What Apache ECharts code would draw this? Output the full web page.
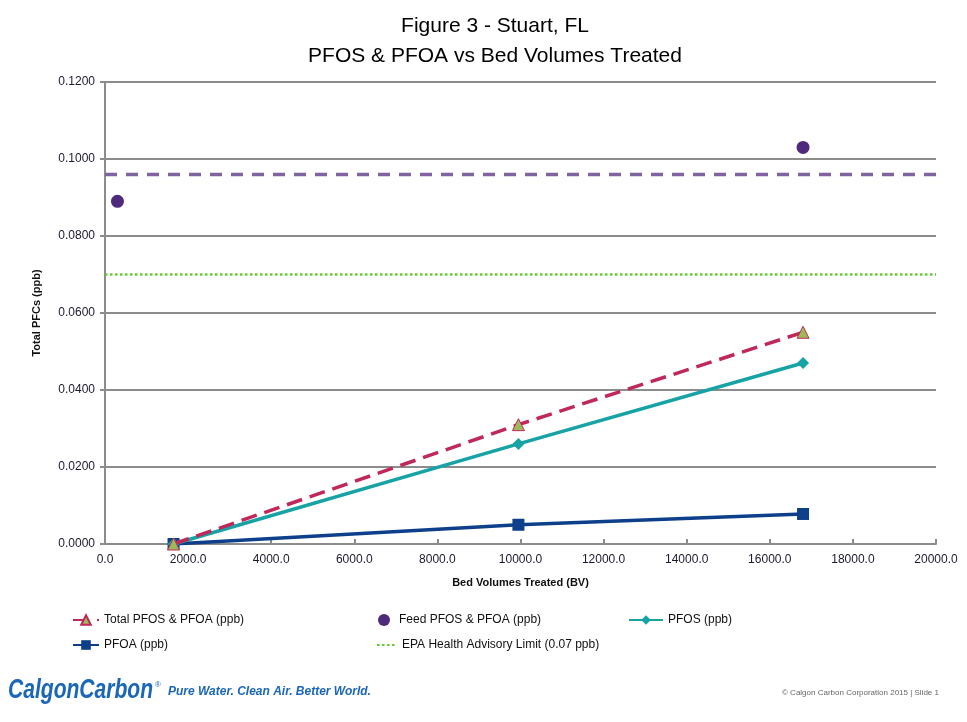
<!DOCTYPE html>
<html>
<head>
<meta charset="utf-8">
<script src="https://cdn.jsdelivr.net/npm/echarts@6/dist/echarts.min.js"></script>
<style>
html,body{margin:0;padding:0;background:#fff;}
#c{width:967px;height:722px;}
</style>
</head>
<body>
<div id="c"></div>
<script>
var titleLines = ['Figure 3 - Stuart, FL', 'PFOS & PFOA vs Bed Volumes Treated'];
var bedVolumes = [1650, 9950, 16800];
var totalPfc = [0.0, 0.031, 0.055];
var pfos = [0.0, 0.026, 0.047];
var pfoa = [0.0, 0.005, 0.0078];
var feedBV = [300, 16800];
var feedVals = [0.089, 0.103];
var feedAvgLevel = 0.096;
var epaLimit = 0.07;
var xRange = [0, 20000];
var names = ['Total PFOS & PFOA (ppb)', 'Feed PFOS & PFOA (ppb)', 'PFOS (ppb)', 'PFOA (ppb)', 'EPA Health Advisory Limit (0.07 ppb)'];

function pairs(xs, ys){ return xs.map(function(x,i){return [x, ys[i]];}); }

var chart = echarts.init(document.getElementById('c'), null, {renderer:'canvas'});
var font = 'Liberation Sans, Arial, sans-serif';
var legendText = {fontSize: 12, color: '#111', fontFamily: font};
function leg(item, left, top, w){
  return {data:[item], left:left, top:top, itemWidth:w, itemHeight:12, itemGap:0,
          textStyle: legendText, selectedMode:false, padding:0};
}
chart.setOption({
  backgroundColor:'#fff',
  animation:false,
  title:{text: titleLines.join('\n'), left: 490, textAlign:'center', top: 6,
    textStyle:{fontSize:21, fontWeight:'normal', color:'#000', fontFamily:font, lineHeight:30}},
  legend:[
    leg(names[0], 72, 614, 26),
    leg(names[1], 378, 614, 20),
    leg(names[2], 628, 614, 34),
    leg(names[3], 72, 639, 26),
    leg({name:names[4], itemStyle:{opacity:0}}, 376, 639, 20)
  ],
  grid:{left:105, right:31, top:82, bottom:178},
  xAxis:{type:'value', min:xRange[0], max:xRange[1], interval:2000,
    name:'Bed Volumes Treated (BV)', nameLocation:'middle', nameGap:33,
    nameTextStyle:{fontSize:11, fontWeight:'bold', color:'#111', fontFamily:font},
    axisLine:{lineStyle:{color:'#8c8c8c', width:2}},
    axisTick:{inside:true, length:5, lineStyle:{color:'#8c8c8c', width:2}},
    axisLabel:{formatter:function(v){return v.toFixed(1);}, fontSize:12, color:'#1a1a2e', fontFamily:font, margin:10},
    splitLine:{show:false}},
  yAxis:{type:'value', min:0, max:0.12, interval:0.02,
    name:'Total PFCs (ppb)', nameLocation:'middle', nameGap:63,
    nameTextStyle:{fontSize:11, fontWeight:'bold', color:'#111', fontFamily:font},
    axisLine:{show:true, lineStyle:{color:'#8c8c8c', width:2}},
    axisTick:{show:true, length:5, lineStyle:{color:'#8c8c8c', width:2}},
    axisLabel:{formatter:function(v){return v.toFixed(4);}, fontSize:12, color:'#1a1a2e', fontFamily:font, margin:10},
    splitLine:{lineStyle:{color:'#8c8c8c', width:2}}},
  series:[
    {name:'Feed average', type:'line', data:pairs(xRange,[feedAvgLevel,feedAvgLevel]), symbol:'none',
      lineStyle:{color:'#8064a2', width:3.5, type:[12,9]}, z:2, silent:true},
    {name:names[4], type:'line', data:pairs(xRange,[epaLimit,epaLimit]), symbol:'none',
      itemStyle:{color:'#66cc33'},
      lineStyle:{color:'#66cc33', width:2.5, type:[2.5,2.5]}, z:2},
    {name:names[3], type:'line', data:pairs(bedVolumes,pfoa), symbol:'rect', symbolSize:12,
      itemStyle:{color:'#0d3f8a'}, lineStyle:{color:'#0d3f8a', width:3.5}, z:3},
    {name:names[2], type:'line', data:pairs(bedVolumes,pfos), symbol:'diamond', symbolSize:12,
      itemStyle:{color:'#17a3a6'}, lineStyle:{color:'#17a3a6', width:3.5}, z:4},
    {name:names[0], type:'line', data:pairs(bedVolumes,totalPfc), symbol:'triangle', symbolSize:12,
      itemStyle:{color:'#9bbb59', borderColor:'#c0285a', borderWidth:1},
      lineStyle:{color:'#c0285a', width:3.5, type:[16,8]}, z:5},
    {name:names[1], type:'scatter', data:pairs(feedBV,feedVals), symbol:'circle', symbolSize:13,
      itemStyle:{color:'#4f2a7c', opacity:1}, z:6}
  ],
  graphic:[
    {type:'text', left:8, top:677, scaleX:0.78, style:{text:'CalgonCarbon',
      fill:'#1a66b8', font:'italic bold 27px "Liberation Sans", Arial, sans-serif'}},
    {type:'text', left:155, top:681, style:{text:'®', fill:'#1a66b8', font:'8px Liberation Sans, Arial'}},
    {type:'text', left:168, top:686, style:{text:'Pure Water. Clean Air. Better World.',
      fill:'#1a66b8', font:'italic bold 12px "Liberation Sans", Arial, sans-serif'}},
    {type:'text', left:782, top:689, style:{text:'© Calgon Carbon Corporation 2015 | Slide 1',
      fill:'#666', font:'8px Liberation Sans, Arial, sans-serif'}}
  ]
});
</script>
</body>
</html>
